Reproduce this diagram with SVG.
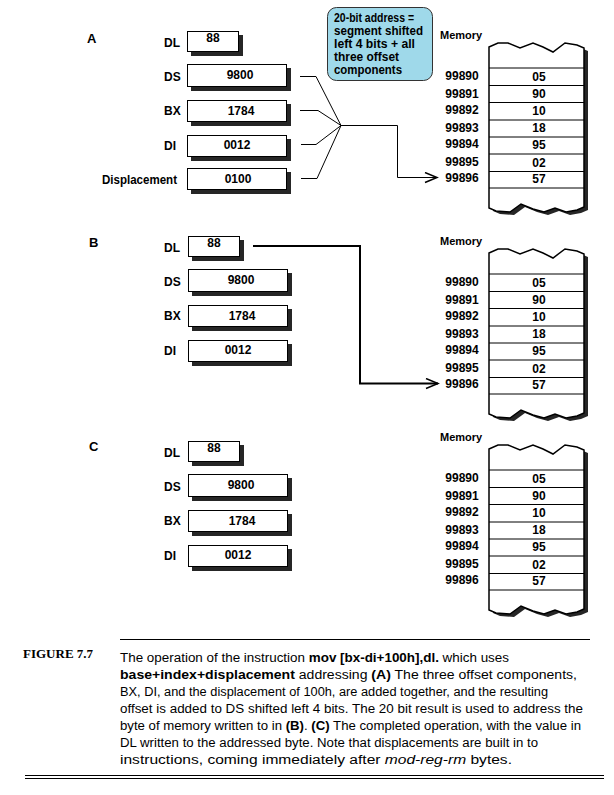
<svg xmlns="http://www.w3.org/2000/svg" width="614" height="795" viewBox="0 0 614 795">
<style>
.shd{fill:#262626}
.box{fill:#fff;stroke:#000;stroke-width:1}
.lbl{font-family:"Liberation Sans",Arial,sans-serif;font-weight:bold;font-size:12px;fill:#000}
.cal{font-family:"Liberation Sans",Arial,sans-serif;font-weight:bold;font-size:12px;fill:#000}
.val{font-family:"Liberation Sans",Arial,sans-serif;font-weight:bold;font-size:12px;fill:#000;text-anchor:middle}
.sec{font-family:"Liberation Sans",Arial,sans-serif;font-weight:bold;font-size:13px;fill:#000}
.mem{font-family:"Liberation Sans",Arial,sans-serif;font-weight:bold;font-size:11px;fill:#000}
.con{fill:none;stroke:#000;stroke-width:1}
.cap{font-family:"Liberation Sans",Arial,sans-serif;font-size:12px;fill:#000}
.b{font-weight:bold}
.i{font-style:italic}
.rule{stroke:#000;stroke-width:1.2;fill:none}
</style>
<defs>
<path id="memshape" d="M489,47 L498,43 L508,43 L520,48 L533,43 L543,47 L553,52 L565,43 L577,45 L584,48 L584,207 L577,210 L566,212 L555,208 L544,212 L533,209 L521,204 L510,212 L496,211 L489,208 Z"/>
<g id="memrows">
<path d="M489,68H584M489,85.5H584M489,102.5H584M489,120H584M489,137H584M489,154H584M489,171.5H584M489,188H584" stroke="#000" stroke-width="1" fill="none"/>
</g>
<g id="memtext">
<text class="val" x="462" y="80">99890</text>
<text class="val" x="462" y="98">99891</text>
<text class="val" x="462" y="114">99892</text>
<text class="val" x="462" y="132">99893</text>
<text class="val" x="462" y="148">99894</text>
<text class="val" x="462" y="166">99895</text>
<text class="val" x="462" y="182">99896</text>
<text class="val" x="539" y="81">05</text>
<text class="val" x="539" y="98">90</text>
<text class="val" x="539" y="115">10</text>
<text class="val" x="539" y="132">18</text>
<text class="val" x="539" y="149">95</text>
<text class="val" x="539" y="167">02</text>
<text class="val" x="539" y="183">57</text>
</g>
<marker id="chev" markerWidth="16" markerHeight="14" refX="13" refY="6" orient="auto" markerUnits="userSpaceOnUse">
<path d="M1,1 L13,6 L1,11" fill="none" stroke="#000" stroke-width="1.5"/>
</marker>
</defs>
<rect width="614" height="795" fill="#fff"/>

<!-- Section A -->
<text class="sec" x="87" y="43">A</text>
<g id="A-DL"><text class="lbl" x="164" y="47">DL</text><rect class="shd" x="191" y="35" width="52" height="21"/><rect class="box" x="187.5" y="31.5" width="51" height="20"/><text class="val" x="213" y="42">88</text></g>
<g id="A-DS"><text class="lbl" x="164" y="81">DS</text><rect class="shd" x="191" y="68" width="100" height="23"/><rect class="box" x="187.5" y="64.5" width="99" height="22"/><text class="val" x="240" y="79">9800</text></g>
<g id="A-BX"><text class="lbl" x="164" y="115">BX</text><rect class="shd" x="191" y="104" width="100" height="22"/><rect class="box" x="187.5" y="100.5" width="99" height="21"/><text class="val" x="241" y="115">1784</text></g>
<g id="A-DI"><text class="lbl" x="164" y="150">DI</text><rect class="shd" x="191" y="139" width="100" height="22"/><rect class="box" x="187.5" y="135.5" width="99" height="21"/><text class="val" x="237" y="149">0012</text></g>
<g id="A-Disp"><text class="lbl" x="102" y="184" textLength="75" lengthAdjust="spacingAndGlyphs">Displacement</text><rect class="shd" x="191" y="172" width="100" height="22"/><rect class="box" x="187.5" y="168.5" width="99" height="21"/><text class="val" x="238" y="183">0100</text></g>

<g id="A-callout">
<rect x="327.5" y="7.5" width="105" height="73" rx="9" fill="#9fd9ea" stroke="#333" stroke-width="1"/>
<text class="cal" x="334" y="22" textLength="80" lengthAdjust="spacingAndGlyphs">20-bit address =</text>
<text class="cal" x="334" y="35" textLength="89" lengthAdjust="spacingAndGlyphs">segment shifted</text>
<text class="cal" x="334" y="48" textLength="81" lengthAdjust="spacingAndGlyphs">left 4 bits + all</text>
<text class="cal" x="334" y="61" textLength="65" lengthAdjust="spacingAndGlyphs">three offset</text>
<text class="cal" x="334" y="74" textLength="68" lengthAdjust="spacingAndGlyphs">components</text>
</g>

<g id="A-memory">
<text class="mem" x="440" y="39">Memory</text>
<use href="#memshape" transform="translate(4,3)" class="shd"/>
<use href="#memshape" fill="#fff" stroke="#000" stroke-width="1.5"/>
<use href="#memrows"/>
<use href="#memtext"/>
</g>

<!-- Section B -->
<text class="sec" x="89" y="247">B</text>
<g transform="translate(1,205)">
<g id="B-DL"><text class="lbl" x="163" y="47">DL</text><rect class="shd" x="191" y="35" width="52" height="21"/><rect class="box" x="187.5" y="31.5" width="51" height="20"/><text class="val" x="213" y="42">88</text></g>
<g id="B-DS"><text class="lbl" x="163" y="81">DS</text><rect class="shd" x="191" y="68" width="100" height="23"/><rect class="box" x="187.5" y="64.5" width="99" height="22"/><text class="val" x="240" y="79">9800</text></g>
<g id="B-BX"><text class="lbl" x="163" y="115">BX</text><rect class="shd" x="191" y="104" width="100" height="22"/><rect class="box" x="187.5" y="100.5" width="99" height="21"/><text class="val" x="241" y="115">1784</text></g>
<g id="B-DI"><text class="lbl" x="163" y="150">DI</text><rect class="shd" x="191" y="139" width="100" height="22"/><rect class="box" x="187.5" y="135.5" width="99" height="21"/><text class="val" x="237" y="149">0012</text></g>
</g>
<g id="B-memory" transform="translate(0,206)">
<text class="mem" x="440" y="39">Memory</text>
<use href="#memshape" transform="translate(4,3)" class="shd"/>
<use href="#memshape" fill="#fff" stroke="#000" stroke-width="1.5"/>
<use href="#memrows"/>
<use href="#memtext"/>
</g>

<!-- Section C -->
<text class="sec" x="89" y="451">C</text>
<g transform="translate(1,410)">
<g id="C-DL"><text class="lbl" x="163" y="47">DL</text><rect class="shd" x="191" y="35" width="52" height="21"/><rect class="box" x="187.5" y="31.5" width="51" height="20"/><text class="val" x="213" y="42">88</text></g>
<g id="C-DS"><text class="lbl" x="163" y="81">DS</text><rect class="shd" x="191" y="68" width="100" height="23"/><rect class="box" x="187.5" y="64.5" width="99" height="22"/><text class="val" x="240" y="79">9800</text></g>
<g id="C-BX"><text class="lbl" x="163" y="115">BX</text><rect class="shd" x="191" y="104" width="100" height="22"/><rect class="box" x="187.5" y="100.5" width="99" height="21"/><text class="val" x="241" y="115">1784</text></g>
<g id="C-DI"><text class="lbl" x="163" y="150">DI</text><rect class="shd" x="191" y="139" width="100" height="22"/><rect class="box" x="187.5" y="135.5" width="99" height="21"/><text class="val" x="237" y="149">0012</text></g>
</g>
<g id="C-memory" transform="translate(0,402)">
<text class="mem" x="440" y="39">Memory</text>
<use href="#memshape" transform="translate(4,3)" class="shd"/>
<use href="#memshape" fill="#fff" stroke="#000" stroke-width="1.5"/>
<use href="#memrows"/>
<use href="#memtext"/>
</g>

<!-- Connectors -->
<g id="connectors">
<polyline class="con" points="300,76.5 316,76.5 341,125.5"/>
<polyline class="con" points="300,110.5 318,110.5 341,125.5"/>
<polyline class="con" points="301,144.5 316,144.5 341,125.5"/>
<polyline class="con" points="301,178.5 317,178.5 341,125.5"/>
<polyline class="con" points="341,125.5 397.5,125.5 397.5,177.5 437,177.5" marker-end="url(#chev)"/>
<polyline class="con" style="stroke-width:2" points="253,246 360,246 360,383.5 438,383.5" marker-end="url(#chev)"/>
</g>

<!-- Caption -->
<g id="caption">
<line class="rule" x1="120" y1="639.5" x2="590" y2="639.5"/>
<text x="23" y="658" style="font-family:'Liberation Serif','Times New Roman',serif;font-weight:bold;font-size:13px">FIGURE 7.7</text>
<text class="cap" x="120" y="662" textLength="389" lengthAdjust="spacingAndGlyphs">The operation of the instruction <tspan class="b">mov [bx-di+100h],dl.</tspan> which uses</text>
<text class="cap" x="120" y="679" textLength="457" lengthAdjust="spacingAndGlyphs"><tspan class="b">base+index+displacement</tspan> addressing <tspan class="b">(A)</tspan> The three offset components,</text>
<text class="cap" x="120" y="696" textLength="428" lengthAdjust="spacingAndGlyphs">BX, DI, and the displacement of 100h, are added together, and the resulting</text>
<text class="cap" x="120" y="713" textLength="463" lengthAdjust="spacingAndGlyphs">offset is added to DS shifted left 4 bits. The 20 bit result is used to address the</text>
<text class="cap" x="120" y="730" textLength="461" lengthAdjust="spacingAndGlyphs">byte of memory written to in <tspan class="b">(B)</tspan>. <tspan class="b">(C)</tspan> The completed operation, with the value in</text>
<text class="cap" x="120" y="747" textLength="418" lengthAdjust="spacingAndGlyphs">DL written to the addressed byte. Note that displacements are built in to</text>
<text class="cap" x="120" y="764" textLength="392" lengthAdjust="spacingAndGlyphs">instructions, coming immediately after <tspan class="i">mod-reg-rm</tspan> bytes.</text>
<line class="rule" x1="25" y1="775.5" x2="604" y2="775.5"/>
<line class="rule" x1="25" y1="778.5" x2="604" y2="778.5"/>
</g>
</svg>
